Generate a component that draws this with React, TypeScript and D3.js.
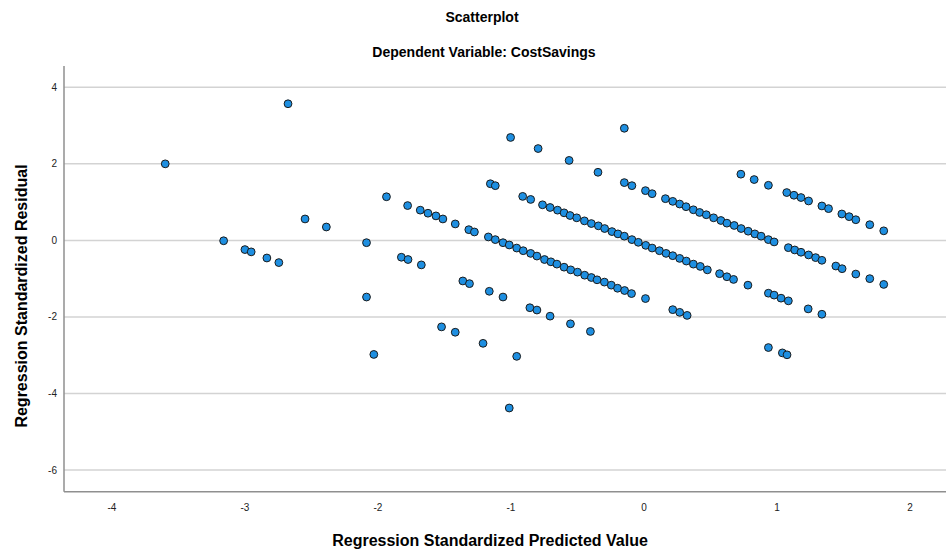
import React from "react";
import * as d3 from "d3";

const predicted: number[] = [
  -3.599, -2.676, -3.16, -3.0, -2.953, -2.835, -2.745, -2.548, -2.388, -2.086,
  -1.936, -1.777, -1.682, -1.624, -1.564, -1.512, -1.419, -1.317, -1.275, -1.17,
  -1.118, -1.06, -1.013, -0.957, -0.908, -0.852, -0.805, -0.748, -0.7, -0.655,
  -0.601, -0.551, -0.5, -0.446, -0.396, -0.353, -0.298, -0.246, -0.199, -0.146,
  -0.094, 0.011, 0.216, 0.268, 0.324, -1.824, -1.774, -1.674, -1.155, -1.118,
  -0.912, -0.852, -1.003, -0.796, -0.563, -0.346, -0.148, -0.148, -0.091,
  -0.763, -0.706, -0.65, -0.601, -0.556, -0.506, -0.448, -0.396, -0.343, -0.296,
  -0.241, -0.196, -0.148, -0.091, -0.043, 0.013, 0.061, 0.116, 0.166, 0.216,
  0.268, 0.318, 0.371, 0.423, 0.476, 0.568, 0.623, 0.673, 0.781, 0.935, 0.978,
  1.03, 1.085, 1.234, 1.337, 0.935, 1.04, 1.075,
  0.011, 0.061, 0.161, 0.216, 0.268, 0.316, 0.371, 0.418, 0.468, 0.523, 0.578,
  0.623, 0.678, 0.73, 0.783, 0.833, 0.88, 0.935, 0.978, 1.085, 1.133, 1.18,
  1.237, 1.29, 1.337, 1.442, 1.489, 1.592, 1.697, 1.802,
  0.728, 0.828, 0.935, 1.073, 1.127, 1.18, 1.237, 1.337, 1.387, 1.487, 1.542,
  1.592, 1.697, 1.802,
  -2.086, -2.031, -1.362, -1.312, -1.163, -1.06, -0.858, -0.805, -0.706, -0.553,
  -0.403, -1.522, -1.419, -1.21, -0.957, -1.013,
];

const residual: number[] = [
  2.0, 3.57, -0.01, -0.24, -0.3, -0.46, -0.58, 0.56, 0.35, -0.06,
  1.14, 0.91, 0.79, 0.71, 0.64, 0.56, 0.43, 0.28, 0.22, 0.09,
  0.02, -0.06, -0.12, -0.2, -0.27, -0.34, -0.41, -0.5, -0.56, -0.62,
  -0.7, -0.77, -0.83, -0.91, -0.97, -1.03, -1.09, -1.17, -1.25, -1.31,
  -1.39, -1.52, -1.81, -1.88, -1.96, -0.44, -0.5, -0.64, 1.48, 1.43,
  1.15, 1.07, 2.69, 2.4, 2.09, 1.78, 2.93, 1.51, 1.43,
  0.93, 0.86, 0.79, 0.72, 0.65, 0.59, 0.51, 0.44, 0.38, 0.31,
  0.23, 0.17, 0.11, 0.02, -0.05, -0.13, -0.2, -0.27, -0.34, -0.4,
  -0.47, -0.54, -0.62, -0.68, -0.77, -0.87, -0.95, -1.02, -1.17, -1.38, -1.43,
  -1.51, -1.58, -1.79, -1.93, -2.8, -2.94, -2.99,
  1.3, 1.22, 1.09, 1.02, 0.95, 0.88, 0.8, 0.73, 0.67, 0.59, 0.52,
  0.45, 0.39, 0.31, 0.24, 0.17, 0.11, 0.02, -0.04, -0.19, -0.25, -0.31,
  -0.38, -0.45, -0.52, -0.67, -0.74, -0.88, -1.0, -1.15,
  1.73, 1.59, 1.44, 1.25, 1.18, 1.12, 1.03, 0.9, 0.83, 0.69, 0.62,
  0.54, 0.41, 0.25,
  -1.48, -2.98, -1.06, -1.13, -1.33, -1.48, -1.76, -1.82, -1.98, -2.18,
  -2.38, -2.26, -2.4, -2.69, -3.03, -4.38,
];

const xTicks: number[] = [-4, -3, -2, -1, 0, 1, 2];
const yTicks: number[] = [4, 2, 0, -2, -4, -6];

const title = "Scatterplot";
const subtitle = "Dependent Variable: CostSavings";
const xTitle = "Regression Standardized Predicted Value";
const yTitle = "Regression Standardized Residual";

const W = 946;
const H = 552;
const left = 64;
const right = 946;
const top = 66;
const bottom = 491.7;

const FONT = "'Liberation Sans', Arial, Helvetica, sans-serif";

export default function App() {
  const x = d3.scaleLinear().domain([-4.36, 2.27]).range([left, right]);
  const y = d3.scaleLinear().domain([-6.567, 4.557]).range([bottom, top]);
  const pts = predicted.map((p, i) => ({ p, r: residual[i] }));

  return (
    <svg
      width={W}
      height={H}
      style={{ position: "absolute", left: 0, top: 0, background: "#fff" }}
      fontFamily={FONT}
    >
      <rect x={0} y={0} width={W} height={H} fill="#fff" />
      <text x={482} y={22} textAnchor="middle" fontSize={14} fontWeight="bold" fill="#000">
        {title}
      </text>
      <text x={484} y={57} textAnchor="middle" fontSize={14} fontWeight="bold" fill="#000">
        {subtitle}
      </text>

      {yTicks.map((t) => (
        <line
          key={"g" + t}
          x1={left}
          x2={right}
          y1={y(t)}
          y2={y(t)}
          stroke="#d3d3d3"
          strokeWidth={1.5}
        />
      ))}

      <line x1={left} x2={left} y1={top} y2={bottom} stroke="#8f8f8f" strokeWidth={1.5} />
      <line x1={left} x2={right} y1={bottom} y2={bottom} stroke="#8f8f8f" strokeWidth={1.5} />

      {yTicks.map((t) => (
        <text
          key={"yl" + t}
          x={57}
          y={y(t) + 3.5}
          textAnchor="end"
          fontSize={10}
          fill="#222"
        >
          {t}
        </text>
      ))}
      {xTicks.map((t) => (
        <text
          key={"xl" + t}
          x={x(t)}
          y={511}
          textAnchor="middle"
          fontSize={10}
          fill="#222"
        >
          {t}
        </text>
      ))}

      {pts.map((d, i) => (
        <circle
          key={i}
          cx={x(d.p)}
          cy={y(d.r)}
          r={3.9}
          fill="#1e8fe1"
          stroke="#1b1b1b"
          strokeWidth={1}
        />
      ))}

      <text x={490} y={546} textAnchor="middle" fontSize={16} fontWeight="bold" fill="#000">
        {xTitle}
      </text>
      <text
        transform={`translate(27, 296) rotate(-90)`}
        textAnchor="middle"
        fontSize={16}
        fontWeight="bold"
        fill="#000"
      >
        {yTitle}
      </text>
    </svg>
  );
}
